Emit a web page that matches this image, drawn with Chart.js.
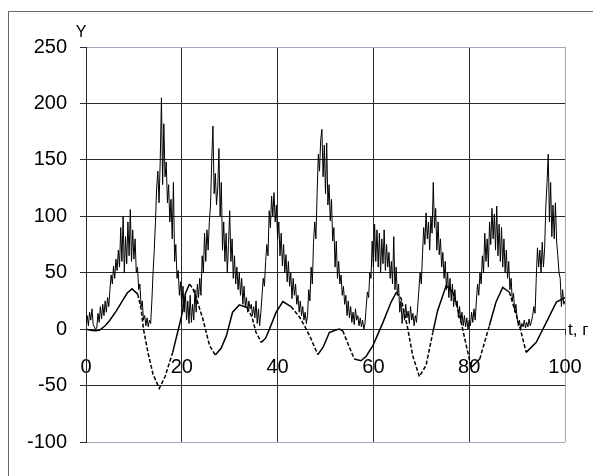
<!DOCTYPE html>
<html>
<head>
<meta charset="utf-8">
<script src="https://cdn.jsdelivr.net/npm/chart.js@4.4.1/dist/chart.umd.min.js"></script>
<style>
  html, body { margin: 0; padding: 0; background: #fff; }
  canvas { display: block; }
</style>
</head>
<body>
<canvas id="chart" width="593" height="476"></canvas>
<script>
// noisy series, one value every 0.25 of t (t = 0 .. 100)
const T_STEP = 0.25
const noisyValues = [
  5, 12, 3, 15, 8, 18, 4, 2, 0, 1, 14, 6, 20, 9, 22, 12, 25, 15, 28, 20,
  35, 48, 40, 56, 45, 62, 52, 70, 55, 90, 60, 100, 50, 82, 58, 95, 65, 106, 60, 88,
  62, 80, 50, 55, 35, 40, 20, 25, 8, 12, 3, 10, 2, 8, 5, 25, 50, 70, 95, 125,
  140, 112, 150, 205, 128, 182, 135, 148, 112, 128, 95, 115, 80, 130, 60, 75, 45, 52, 30, 42,
  20, 38, 15, 32, 8, 25, 5, 30, 6, 22, 8, 35, 15, 40, 28, 45, 30, 65, 50, 85,
  60, 88, 70, 95, 110, 150, 180, 120, 138, 110, 125, 160, 100, 130, 70, 95, 60, 85, 50, 75,
  105, 60, 80, 45, 65, 40, 55, 35, 50, 30, 45, 22, 38, 20, 28, 15, 25, 18, 22, 12,
  20, 10, 25, 5, 18, 3, 15, 30, 45, 38, 60, 75, 65, 105, 90, 118, 100, 121, 95, 110,
  80, 95, 65, 85, 56, 75, 50, 66, 42, 60, 38, 50, 27, 45, 30, 40, 22, 30, 15, 25,
  12, 20, 8, 15, 5, 12, 35, 25, 55, 40, 77, 95, 80, 120, 155, 140, 168, 177, 135, 163,
  120, 165, 110, 128, 96, 115, 78, 90, 55, 78, 45, 60, 40, 48, 30, 38, 22, 30, 12, 25,
  10, 20, 6, 15, 4, 18, 8, 12, 3, 10, 2, 8, 0, 5, 20, 33, 28, 50, 45, 78,
  55, 93, 60, 88, 55, 85, 50, 80, 58, 88, 52, 75, 55, 68, 45, 60, 40, 82, 35, 55,
  30, 40, 15, 25, 5, 18, 8, 22, 10, 16, 5, 20, 8, 14, 3, 12, 6, 20, 35, 50,
  40, 66, 90, 75, 103, 80, 95, 70, 100, 85, 130, 90, 107, 70, 95, 66, 80, 55, 68, 45,
  60, 35, 50, 28, 45, 25, 40, 20, 35, 22, 25, 10, 20, 6, 15, 3, 12, 2, 10, 0,
  8, 3, 15, 6, 18, 8, 25, 40, 30, 50, 40, 65, 50, 85, 60, 80, 55, 95, 75, 107,
  80, 102, 70, 109, 65, 93, 60, 90, 55, 80, 50, 70, 45, 60, 35, 45, 25, 32, 15, 22,
  10, 3, 8, 0, 5, 2, 8, 1, 6, 2, 9, 3, 7, 12, 20, 14, 45, 72, 55, 70,
  50, 77, 55, 72, 109, 130, 155, 95, 130, 82, 110, 80, 112, 78, 65, 50, 45, 20, 35, 22,
  25
]

// smooth (dashed) series
const smoothT = [
  0, 1, 2, 2.8, 4, 4.9, 6.3, 7.6, 8.6, 9.6, 10.8, 11.5, 12, 13, 14, 15.3, 16.5, 18.1, 19.9,
  20.8, 21.6, 22.3, 23, 24.4, 25.8, 27, 28.2, 29.3, 30.6, 32, 33.7, 34.7, 35.5, 36.6, 37.5,
  38.3, 39.7, 41.1, 42.8, 44.6, 45.6, 46.7, 48.4, 49.5, 50.8, 52, 52.9, 53.6, 54.8, 56, 57.4,
  58.5, 59.9, 62, 63.7, 64.8, 65.8, 67.2, 68.2, 69.6, 71, 72.4, 73.4, 75.2, 76.6, 78, 79.4,
  80.4, 82.2, 84.2, 85.6, 87, 88.4, 90.5, 91.9, 94, 96.1, 98.2, 100
]
const smoothValues = [
  0, -1, -1.5, -1, 3, 7.5, 16, 25, 32, 35.7, 31, 18, 0, -22, -40, -52.5, -42, -20.6, 10.5,
  32, 40, 36, 28, 9, -14.6, -23, -17, -6, 15, 21.5, 19, 10, -3, -11.7, -8,
  0, 15, 24.4, 20, 10.5, 3, -6, -22.6, -16, -3, -1, 0, -1.5, -14, -26.5, -28,
  -24, -14.6, 6, 24, 32.7, 27, 0, -23.5, -42, -32, -3, 16.4, 38.6, 32.7, 12, -14.6,
  -34, -26.5, 3, 24, 37, 32.7, 3, -20.6, -11.7, 6, 24, 28
]

const xTicks = [0, 20, 40, 60, 80, 100]
const yTicks = [-100, -50, 0, 50, 100, 150, 200, 250]
const yTitle = "Y"
const xTitle = "t, г"

const FONT = '"Liberation Sans", Arial, sans-serif'
const GRID_DARK = "#2b2b2b"
const GRID_LIGHT = "#a4a4c0"

const noisyData = noisyValues.map((v, i) => ({ x: i * T_STEP, y: v }))
const smoothData = smoothT.map((t, i) => ({ x: t, y: smoothValues[i] }))

// frame round the picture plus the two axis captions
const decorations = {
  id: "decorations",
  beforeDraw(chart) {
    const { ctx } = chart
    ctx.save()
    ctx.fillStyle = "#fff"
    ctx.fillRect(0, 0, chart.width, chart.height)
    ctx.strokeStyle = "#6a6a6a"
    ctx.lineWidth = 1
    ctx.strokeRect(8.5, 11.5, 700, 600)
    ctx.restore()
  },
  afterDraw(chart) {
    const { ctx, scales: { x, y } } = chart
    ctx.save()
    ctx.fillStyle = "#000"
    ctx.font = "16px " + FONT
    ctx.textAlign = "center"
    ctx.textBaseline = "alphabetic"
    ctx.fillText(yTitle, x.left - 5, y.top - 10.5)
    ctx.font = "17px " + FONT
    ctx.textAlign = "left"
    ctx.fillText(xTitle, x.right + 3, y.getPixelForValue(0) + 5.5)
    ctx.restore()
  },
}

new Chart(document.getElementById("chart"), {
  type: "line",
  data: {
    datasets: [
      {
        data: noisyData,
        borderColor: "#000",
        borderWidth: 1,
        pointRadius: 0,
        tension: 0,
      },
      {
        data: smoothData,
        borderColor: "#000",
        borderWidth: 1.5,
        pointRadius: 0,
        tension: 0,
        segment: {
          // steep falls (and the climb out of deep dips) show up dashed
          borderDash: (c) => {
            const dx = Math.abs(c.p1.x - c.p0.x)
            const dy = c.p1.y - c.p0.y
            const falling = dy > dx * 1.2
            const deepRise = -dy > dx * 1.2 && c.p0.parsed.y < -25
            return falling || deepRise ? [4, 2] : undefined
          },
        },
      },
    ],
  },
  options: {
    responsive: false,
    animation: false,
    events: [],
    layout: { padding: { top: 47, right: 28, bottom: 34, left: 0 } },
    plugins: {
      legend: { display: false },
      tooltip: { enabled: false },
    },
    scales: {
      x: {
        type: "linear",
        position: { y: 0 },
        min: 0,
        max: 100,
        afterBuildTicks: (s) => { s.ticks = xTicks.map((v) => ({ value: v })) },
        // labels must not eat into the plot width
        afterFit: (s) => { s.paddingLeft = 0; s.paddingRight = 0 },
        grid: {
          color: (c) => (c.tick && c.tick.value === 100 ? GRID_LIGHT : GRID_DARK),
          tickColor: GRID_DARK,
          tickLength: 5,
        },
        border: { color: GRID_DARK },
        ticks: {
          color: "#000",
          font: { family: FONT, size: 20 },
          padding: 21,
          maxRotation: 0,
        },
      },
      y: {
        min: -100,
        max: 250,
        afterBuildTicks: (s) => { s.ticks = yTicks.map((v) => ({ value: v })) },
        afterFit: (s) => { s.width = 86 },
        grid: {
          color: (c) => (c.tick && (c.tick.value === 250 || c.tick.value === -100) ? GRID_LIGHT : GRID_DARK),
          tickColor: GRID_DARK,
          tickLength: 6,
        },
        border: { color: GRID_DARK },
        ticks: {
          color: "#000",
          font: { family: FONT, size: 20 },
          padding: 13,
        },
      },
    },
  },
  plugins: [decorations],
})
</script>
</body>
</html>
